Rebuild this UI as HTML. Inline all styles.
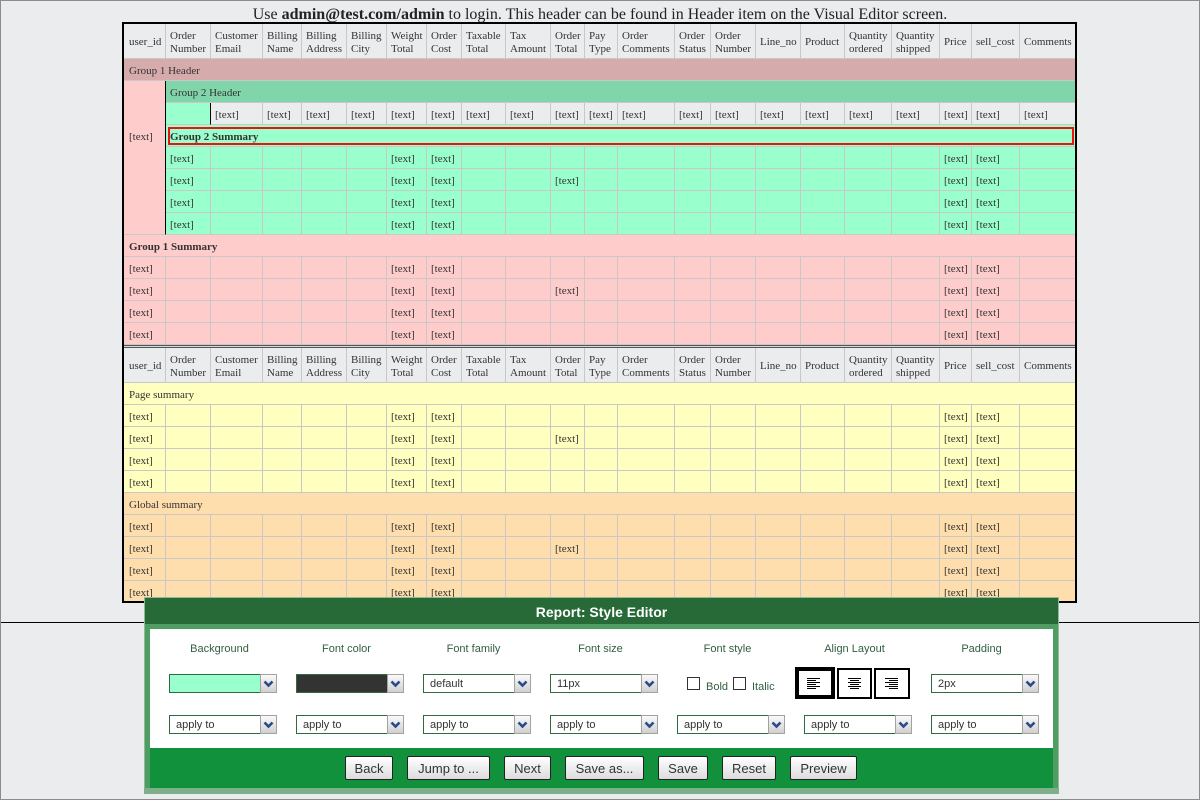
<!DOCTYPE html>
<html><head><meta charset="utf-8"><style>
*{margin:0;padding:0}
body{width:1200px;height:800px;overflow:hidden;background:#ebecee}
#pg{position:relative;width:1200px;height:800px;background:#ebecee;overflow:hidden}
.frame{position:absolute;left:0;top:0;width:1200px;height:800px;box-sizing:border-box;border:1px solid #8c8c8c}
.title{position:absolute;left:0;top:5px;width:1200px;text-align:center;font:16px/20px "Liberation Serif",serif;color:#222}
.hl{position:absolute;left:1px;top:622px;width:1198px;height:1px;background:#000}
.tbl{position:absolute;left:122px;top:22px;width:951px;height:577px;border:2px solid #000;overflow:hidden;background:#fff}
.t{display:grid;grid-template-columns:42px 45px 52px 39px 45px 40px 40px 35px 44px 45px 34px 33px 57px 36px 45px 45px 44px 47px 48px 32px 48px 55px;font:11px "Liberation Serif",serif;color:#333}
.g1{grid-template-rows:35px repeat(13,22px)}
.g2{grid-template-rows:35px repeat(10,22px)}
.r{display:contents}
.t i{display:block;box-sizing:border-box;border-right:1px solid #c8c8c8;border-bottom:1px solid #c8c8c8;padding-left:4px;padding-top:1px;font-style:normal;white-space:nowrap;overflow:hidden;line-height:23px}
.t .r i:last-child{border-right:0}
.t i.f{padding-left:5px}
.hd i{background:#ebecee;line-height:34px;padding-top:2px}
.hd i.s{padding-top:1px}
.hd i span{display:inline-block;line-height:13px;vertical-align:middle;white-space:nowrap}
.p i{background:#ffcccc}
.m i{background:#99ffcc}
.y i{background:#ffffbf}
.o i{background:#ffdead}
.gr i{background:#ebecee}
.t i.s22{grid-column:span 22}
.t i.s21{grid-column:span 21}
.t i.rs{grid-row:span 7;background:#ffcccc;border-right:1px solid #000;padding-top:45px;padding-left:5px}
.t i.g1h{background:#d6abab}
.t i.g2h{background:#80d6aa}
.t i.k{background:#99ffcc;border-right:1px solid #000}
.t i.bd{font-weight:bold}
.t i.gs{position:relative;background:#99ffcc;font-weight:bold}
.gs u{position:absolute;left:2px;right:1px;top:2px;height:18px;box-sizing:border-box;border:2px solid #ee1111}
.sep{height:3px;box-sizing:border-box;border-top:1px solid #555;border-bottom:1px solid #555;background:#d8d8d8}
.dlg{position:absolute;left:144px;top:597px;width:915px;height:197px;background:#4f9d63;box-shadow:inset 0 0 0 1px #8dba98}
.dbot{position:absolute;left:144px;top:788px;width:915px;height:6px;background:#7db08a}
.dhd{position:absolute;left:145px;top:598px;width:913px;height:26px;box-sizing:border-box;padding-top:1px;background:#276a37;color:#fff;font:bold 14px/26px "Liberation Sans",sans-serif;text-align:center;overflow:hidden}
.dct{position:absolute;left:150px;top:629px;width:903px;height:119px;background:#fff}
.dbar{position:absolute;left:150px;top:748px;width:903px;height:40px;background:#11913c}
.lb{position:absolute;top:642px;width:127px;text-align:center;font:11px/14px "Liberation Sans",sans-serif;color:#2f5f3f}
.sel{position:absolute;width:108px;height:19px}
.sel .tx{position:absolute;left:0;top:0;width:92px;height:19px;box-sizing:border-box;border:1px solid #2e6b40;background:#fff;font:11px/19px "Liberation Sans",sans-serif;color:#333;padding-left:6px;white-space:nowrap;overflow:hidden}
.sel .bt{position:absolute;left:91px;top:0;width:17px;height:19px;box-sizing:border-box;border:1px solid #a2a2a2;background:linear-gradient(#fafafa,#d0d0d0)}
.sel .bt svg{position:absolute;left:0;top:0}
.cb{position:absolute;top:677px;width:13px;height:13px;box-sizing:border-box;border:1px solid #333;background:#fff}
.cl{position:absolute;top:680px;font:11px/14px "Liberation Sans",sans-serif;color:#2f5f3f}
.ab{position:absolute;box-sizing:border-box;background:#fff;border:2px solid #000}
.btn{position:absolute;top:756px;height:24px;box-sizing:border-box;border:1px solid #222;border-radius:2px;padding-top:1px;background:linear-gradient(#ffffff,#dcdcdc);font:13px/22px "Liberation Sans",sans-serif;color:#333;text-align:center;white-space:nowrap;overflow:hidden}
</style></head><body><div id="pg">
<div class="title">Use <b>admin@test.com/admin</b> to login. This header can be found in Header item on the Visual Editor screen.</div>
<div class="hl"></div>

<div class="tbl">
<div class="t g1">
<div class="r hd"><i class="f s">user_id</i><i><span>Order<br>Number</span></i><i><span>Customer<br>Email</span></i><i><span>Billing<br>Name</span></i><i><span>Billing<br>Address</span></i><i><span>Billing<br>City</span></i><i><span>Weight<br>Total</span></i><i><span>Order<br>Cost</span></i><i><span>Taxable<br>Total</span></i><i><span>Tax<br>Amount</span></i><i><span>Order<br>Total</span></i><i><span>Pay<br>Type</span></i><i><span>Order<br>Comments</span></i><i><span>Order<br>Status</span></i><i><span>Order<br>Number</span></i><i class="s">Line_no</i><i class="s">Product</i><i><span>Quantity<br>ordered</span></i><i><span>Quantity<br>shipped</span></i><i class="s">Price</i><i class="s">sell_cost</i><i class="s">Comments</i></div>
<div class="r"><i class="s22 g1h f">Group 1 Header</i></div>
<div class="r"><i class="rs">[text]</i><i class="s21 g2h">Group 2 Header</i></div>
<div class="r gr"><i class="k"></i><i>[text]</i><i>[text]</i><i>[text]</i><i>[text]</i><i>[text]</i><i>[text]</i><i>[text]</i><i>[text]</i><i>[text]</i><i>[text]</i><i>[text]</i><i>[text]</i><i>[text]</i><i>[text]</i><i>[text]</i><i>[text]</i><i>[text]</i><i>[text]</i><i>[text]</i><i>[text]</i></div>
<div class="r"><i class="s21 gs"><u></u>Group 2 Summary</i></div>
<div class="r m"><i>[text]</i><i></i><i></i><i></i><i></i><i>[text]</i><i>[text]</i><i></i><i></i><i></i><i></i><i></i><i></i><i></i><i></i><i></i><i></i><i></i><i>[text]</i><i>[text]</i><i></i></div>
<div class="r m"><i>[text]</i><i></i><i></i><i></i><i></i><i>[text]</i><i>[text]</i><i></i><i></i><i>[text]</i><i></i><i></i><i></i><i></i><i></i><i></i><i></i><i></i><i>[text]</i><i>[text]</i><i></i></div>
<div class="r m"><i>[text]</i><i></i><i></i><i></i><i></i><i>[text]</i><i>[text]</i><i></i><i></i><i></i><i></i><i></i><i></i><i></i><i></i><i></i><i></i><i></i><i>[text]</i><i>[text]</i><i></i></div>
<div class="r m"><i>[text]</i><i></i><i></i><i></i><i></i><i>[text]</i><i>[text]</i><i></i><i></i><i></i><i></i><i></i><i></i><i></i><i></i><i></i><i></i><i></i><i>[text]</i><i>[text]</i><i></i></div>
<div class="r p"><i class="s22 bd f">Group 1 Summary</i></div>
<div class="r p"><i class="f">[text]</i><i></i><i></i><i></i><i></i><i></i><i>[text]</i><i>[text]</i><i></i><i></i><i></i><i></i><i></i><i></i><i></i><i></i><i></i><i></i><i></i><i>[text]</i><i>[text]</i><i></i></div>
<div class="r p"><i class="f">[text]</i><i></i><i></i><i></i><i></i><i></i><i>[text]</i><i>[text]</i><i></i><i></i><i>[text]</i><i></i><i></i><i></i><i></i><i></i><i></i><i></i><i></i><i>[text]</i><i>[text]</i><i></i></div>
<div class="r p"><i class="f">[text]</i><i></i><i></i><i></i><i></i><i></i><i>[text]</i><i>[text]</i><i></i><i></i><i></i><i></i><i></i><i></i><i></i><i></i><i></i><i></i><i></i><i>[text]</i><i>[text]</i><i></i></div>
<div class="r p"><i class="f">[text]</i><i></i><i></i><i></i><i></i><i></i><i>[text]</i><i>[text]</i><i></i><i></i><i></i><i></i><i></i><i></i><i></i><i></i><i></i><i></i><i></i><i>[text]</i><i>[text]</i><i></i></div>
</div>
<div class="sep"></div>
<div class="t g2">
<div class="r hd"><i class="f s">user_id</i><i><span>Order<br>Number</span></i><i><span>Customer<br>Email</span></i><i><span>Billing<br>Name</span></i><i><span>Billing<br>Address</span></i><i><span>Billing<br>City</span></i><i><span>Weight<br>Total</span></i><i><span>Order<br>Cost</span></i><i><span>Taxable<br>Total</span></i><i><span>Tax<br>Amount</span></i><i><span>Order<br>Total</span></i><i><span>Pay<br>Type</span></i><i><span>Order<br>Comments</span></i><i><span>Order<br>Status</span></i><i><span>Order<br>Number</span></i><i class="s">Line_no</i><i class="s">Product</i><i><span>Quantity<br>ordered</span></i><i><span>Quantity<br>shipped</span></i><i class="s">Price</i><i class="s">sell_cost</i><i class="s">Comments</i></div>
<div class="r y"><i class="s22 f">Page summary</i></div>
<div class="r y"><i class="f">[text]</i><i></i><i></i><i></i><i></i><i></i><i>[text]</i><i>[text]</i><i></i><i></i><i></i><i></i><i></i><i></i><i></i><i></i><i></i><i></i><i></i><i>[text]</i><i>[text]</i><i></i></div>
<div class="r y"><i class="f">[text]</i><i></i><i></i><i></i><i></i><i></i><i>[text]</i><i>[text]</i><i></i><i></i><i>[text]</i><i></i><i></i><i></i><i></i><i></i><i></i><i></i><i></i><i>[text]</i><i>[text]</i><i></i></div>
<div class="r y"><i class="f">[text]</i><i></i><i></i><i></i><i></i><i></i><i>[text]</i><i>[text]</i><i></i><i></i><i></i><i></i><i></i><i></i><i></i><i></i><i></i><i></i><i></i><i>[text]</i><i>[text]</i><i></i></div>
<div class="r y"><i class="f">[text]</i><i></i><i></i><i></i><i></i><i></i><i>[text]</i><i>[text]</i><i></i><i></i><i></i><i></i><i></i><i></i><i></i><i></i><i></i><i></i><i></i><i>[text]</i><i>[text]</i><i></i></div>
<div class="r o"><i class="s22 f">Global summary</i></div>
<div class="r o"><i class="f">[text]</i><i></i><i></i><i></i><i></i><i></i><i>[text]</i><i>[text]</i><i></i><i></i><i></i><i></i><i></i><i></i><i></i><i></i><i></i><i></i><i></i><i>[text]</i><i>[text]</i><i></i></div>
<div class="r o"><i class="f">[text]</i><i></i><i></i><i></i><i></i><i></i><i>[text]</i><i>[text]</i><i></i><i></i><i>[text]</i><i></i><i></i><i></i><i></i><i></i><i></i><i></i><i></i><i>[text]</i><i>[text]</i><i></i></div>
<div class="r o"><i class="f">[text]</i><i></i><i></i><i></i><i></i><i></i><i>[text]</i><i>[text]</i><i></i><i></i><i></i><i></i><i></i><i></i><i></i><i></i><i></i><i></i><i></i><i>[text]</i><i>[text]</i><i></i></div>
<div class="r o"><i class="f">[text]</i><i></i><i></i><i></i><i></i><i></i><i>[text]</i><i>[text]</i><i></i><i></i><i></i><i></i><i></i><i></i><i></i><i></i><i></i><i></i><i></i><i>[text]</i><i>[text]</i><i></i></div>
</div>
</div>

<div class="dlg"></div>
<div class="dbot"></div>
<div class="dhd">Report: Style Editor</div>
<div class="dct"></div>
<div class="dbar"></div>

<div class="lb" style="left:156px">Background</div>
<div class="lb" style="left:283px">Font color</div>
<div class="lb" style="left:410px">Font family</div>
<div class="lb" style="left:537px">Font size</div>
<div class="lb" style="left:664px">Font style</div>
<div class="lb" style="left:791px">Align Layout</div>
<div class="lb" style="left:918px">Padding</div>

<div class="sel" style="left:169px;top:674px"><div class="tx" style="background:#99ffcc"></div><div class="bt"><svg width="15" height="17"><path d="M3.5 6.5 L7.5 10.5 L11.5 6.5" stroke="#2b4a8a" stroke-width="2.6" fill="none"/></svg></div></div>
<div class="sel" style="left:296px;top:674px"><div class="tx" style="background:#333333"></div><div class="bt"><svg width="15" height="17"><path d="M3.5 6.5 L7.5 10.5 L11.5 6.5" stroke="#2b4a8a" stroke-width="2.6" fill="none"/></svg></div></div>
<div class="sel" style="left:423px;top:674px"><div class="tx">default</div><div class="bt"><svg width="15" height="17"><path d="M3.5 6.5 L7.5 10.5 L11.5 6.5" stroke="#2b4a8a" stroke-width="2.6" fill="none"/></svg></div></div>
<div class="sel" style="left:550px;top:674px"><div class="tx">11px</div><div class="bt"><svg width="15" height="17"><path d="M3.5 6.5 L7.5 10.5 L11.5 6.5" stroke="#2b4a8a" stroke-width="2.6" fill="none"/></svg></div></div>
<div class="sel" style="left:931px;top:674px"><div class="tx">2px</div><div class="bt"><svg width="15" height="17"><path d="M3.5 6.5 L7.5 10.5 L11.5 6.5" stroke="#2b4a8a" stroke-width="2.6" fill="none"/></svg></div></div>

<div class="cb" style="left:687px"></div><div class="cl" style="left:706px">Bold</div>
<div class="cb" style="left:733px"></div><div class="cl" style="left:752px">Italic</div>

<div class="ab" style="left:795px;top:667px;width:40px;height:32px;border-width:4px"></div>
<div class="ab" style="left:837px;top:668px;width:35px;height:31px"></div>
<div class="ab" style="left:874px;top:668px;width:36px;height:31px"></div>
<svg style="position:absolute;left:780px;top:660px" width="140" height="45" shape-rendering="crispEdges">
<g stroke="#000" stroke-width="1">
<path d="M27 18.5h13M27 20.5h9M27 22.5h13M27 24.5h9M27 26.5h13M27 28.5h9"/>
<path d="M68 18.5h13M70 20.5h9M68 22.5h13M70 24.5h9M68 26.5h13M70 28.5h9"/>
<path d="M105 18.5h13M109 20.5h9M105 22.5h13M109 24.5h9M105 26.5h13M109 28.5h9"/>
</g></svg>

<div class="sel" style="left:169px;top:715px"><div class="tx">apply to</div><div class="bt"><svg width="15" height="17"><path d="M3.5 6.5 L7.5 10.5 L11.5 6.5" stroke="#2b4a8a" stroke-width="2.6" fill="none"/></svg></div></div>
<div class="sel" style="left:296px;top:715px"><div class="tx">apply to</div><div class="bt"><svg width="15" height="17"><path d="M3.5 6.5 L7.5 10.5 L11.5 6.5" stroke="#2b4a8a" stroke-width="2.6" fill="none"/></svg></div></div>
<div class="sel" style="left:423px;top:715px"><div class="tx">apply to</div><div class="bt"><svg width="15" height="17"><path d="M3.5 6.5 L7.5 10.5 L11.5 6.5" stroke="#2b4a8a" stroke-width="2.6" fill="none"/></svg></div></div>
<div class="sel" style="left:550px;top:715px"><div class="tx">apply to</div><div class="bt"><svg width="15" height="17"><path d="M3.5 6.5 L7.5 10.5 L11.5 6.5" stroke="#2b4a8a" stroke-width="2.6" fill="none"/></svg></div></div>
<div class="sel" style="left:677px;top:715px"><div class="tx">apply to</div><div class="bt"><svg width="15" height="17"><path d="M3.5 6.5 L7.5 10.5 L11.5 6.5" stroke="#2b4a8a" stroke-width="2.6" fill="none"/></svg></div></div>
<div class="sel" style="left:804px;top:715px"><div class="tx">apply to</div><div class="bt"><svg width="15" height="17"><path d="M3.5 6.5 L7.5 10.5 L11.5 6.5" stroke="#2b4a8a" stroke-width="2.6" fill="none"/></svg></div></div>
<div class="sel" style="left:931px;top:715px"><div class="tx">apply to</div><div class="bt"><svg width="15" height="17"><path d="M3.5 6.5 L7.5 10.5 L11.5 6.5" stroke="#2b4a8a" stroke-width="2.6" fill="none"/></svg></div></div>

<div class="btn" style="left:345px;width:48px">Back</div>
<div class="btn" style="left:407px;width:83px">Jump to ...</div>
<div class="btn" style="left:504px;width:47px">Next</div>
<div class="btn" style="left:565px;width:79px">Save as...</div>
<div class="btn" style="left:658px;width:50px">Save</div>
<div class="btn" style="left:722px;width:54px">Reset</div>
<div class="btn" style="left:790px;width:67px">Preview</div>
<div class="frame"></div>
</div></body></html>
